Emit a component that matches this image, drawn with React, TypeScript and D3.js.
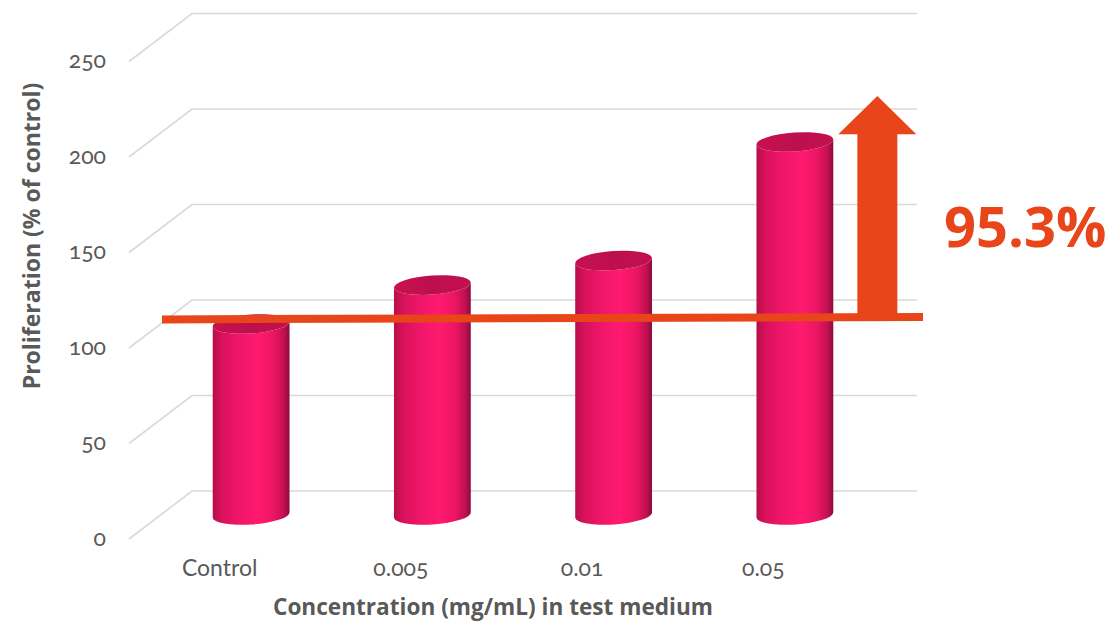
import React from "react";
import * as d3 from "d3";

// Data
const categories = ["Control", "0.005", "0.01", "0.05"];
const proliferation = [100, 120.4, 133.2, 195.3];
const yTicks = [0, 50, 100, 150, 200, 250];
const increaseLabel = "95.3%";
// Reference line at control level (slightly tilted as drawn), start/end in axis units
const refLevels = [102.4, 103.7];
// Arrow: head base and tip, in axis units
const arrowLevels = [199.3, 219.4];

const W = 1117;
const H = 622;
const GREY = "#595959";
const GRID = "#d9d9d9";
const ORANGE = "#E8461A";
const FONT = "Lato, 'Open Sans', sans-serif";
const TITLE_FONT = "'Open Sans', sans-serif";

// 3D layout: back wall plane, front plane offset, bars at half depth
const depthDx = -63;
const depthDy = 48;
const yBack = d3.scaleLinear().domain([0, 250]).range([491, 13.5]);
const backX0 = 192;
const backX1 = 917;
const yMid = (v: number) => yBack(v) + depthDy / 2;
const xMid = d3
  .scaleBand<string>()
  .domain(categories)
  .range([backX0 + depthDx / 2, backX1 + depthDx / 2]);

const barRx = 38.5;
const barRy = 9.5;
const tilt = -4; // degrees

function barSide(cx: number, yTop: number, yBot: number) {
  const t = (tilt * Math.PI) / 180;
  const dx = barRx * Math.cos(t);
  const dy = barRx * Math.sin(t);
  const xl = cx - dx, yl = -dy;
  const xr = cx + dx, yr = dy;
  return [
    `M${xl},${yTop + yl}`,
    `L${xl},${yBot + yl}`,
    `A${barRx},${barRy} ${tilt} 0 0 ${xr},${yBot + yr}`,
    `L${xr},${yTop + yr}`,
    `A${barRx},${barRy} ${tilt} 0 1 ${xl},${yTop + yl}`,
    "Z",
  ].join(" ");
}

export default function App() {
  const step = xMid.step();
  const lastCx = xMid(categories[3])! + xMid.bandwidth() / 2;
  const arrowCx = lastCx + step * 0.455;
  const lineX0 = 162;
  const lineX1 = 923;
  const lineY0 = yMid(refLevels[0]);
  const lineY1 = yMid(refLevels[1]);
  const lineYAt = (x: number) => lineY0 + ((x - lineX0) / (lineX1 - lineX0)) * (lineY1 - lineY0);
  const headBase = yMid(arrowLevels[0]);
  const tipY = yMid(arrowLevels[1]);
  const shaftHalf = 20;
  const headHalf = 39;
  const arrowBottom = lineYAt(arrowCx);

  return (
    <svg
      width={W}
      height={H}
      style={{ position: "absolute", left: 0, top: 0, background: "#fff" }}
      fontFamily={FONT}
    >
      <defs>
        <linearGradient id="cylSide" x1="0" x2="1" y1="0" y2="0">
          <stop offset="0" stopColor="#b80e4a" />
          <stop offset="0.12" stopColor="#d8125a" />
          <stop offset="0.35" stopColor="#f0166a" />
          <stop offset="0.6" stopColor="#ff1a6f" />
          <stop offset="0.8" stopColor="#ea1562" />
          <stop offset="0.93" stopColor="#c01050" />
          <stop offset="1" stopColor="#8a0b3c" />
        </linearGradient>
        <linearGradient id="cylTop" x1="0" x2="1" y1="0" y2="0">
          <stop offset="0" stopColor="#c8114f" />
          <stop offset="0.5" stopColor="#bd0f4d" />
          <stop offset="1" stopColor="#c3104f" />
        </linearGradient>
      </defs>

      {/* gridlines: diagonal from front edge to back wall, then across */}
      {yTicks.map((t) => (
        <polyline
          key={t}
          points={`${backX0 + depthDx},${yBack(t) + depthDy} ${backX0},${yBack(t)} ${backX1},${yBack(t)}`}
          fill="none"
          stroke={GRID}
          strokeWidth={1.6}
        />
      ))}

      {/* y tick labels on the front plane */}
      {yTicks.map((t) => (
        <text
          key={t}
          x={106}
          y={yBack(t) + depthDy}
          dy="0.3em"
          textAnchor="end"
          fontSize={23}
          fill={GREY}
          style={{ fontVariantNumeric: "oldstyle-nums" }}
        >
          {t}
        </text>
      ))}

      {/* cylinders */}
      {categories.map((c, i) => {
        const cx = xMid(c)! + xMid.bandwidth() / 2;
        const yTop = yMid(proliferation[i]);
        const yBot = yMid(0);
        return (
          <g key={c}>
            <path d={barSide(cx, yTop, yBot)} fill="url(#cylSide)" />
            <ellipse
              cx={cx}
              cy={yTop}
              rx={barRx}
              ry={barRy}
              transform={`rotate(${tilt} ${cx} ${yTop})`}
              fill="url(#cylTop)"
            />
          </g>
        );
      })}

      {/* category labels on the front plane */}
      {categories.map((c) => (
        <text
          key={c}
          x={xMid(c)! + xMid.bandwidth() / 2 + depthDx / 2}
          y={576}
          textAnchor="middle"
          fontSize={23}
          fill={GREY}
          style={{ fontVariantNumeric: "oldstyle-nums" }}
        >
          {c}
        </text>
      ))}

      {/* reference line and increase arrow */}
      <line x1={lineX0} y1={lineY0} x2={lineX1} y2={lineY1} stroke={ORANGE} strokeWidth={8} />
      <path
        d={`M${arrowCx - shaftHalf},${arrowBottom} L${arrowCx - shaftHalf},${headBase} L${arrowCx - headHalf},${headBase} L${arrowCx},${tipY} L${arrowCx + headHalf},${headBase} L${arrowCx + shaftHalf},${headBase} L${arrowCx + shaftHalf},${arrowBottom} Z`}
        fill={ORANGE}
      />
      <text x={944} y={246.5} fontSize={56} fontWeight={700} fill={ORANGE} fontFamily={TITLE_FONT}>
        {increaseLabel}
      </text>

      {/* axis titles */}
      <text
        transform={`translate(40,236) rotate(-90)`}
        textAnchor="middle"
        fontSize={23}
        fontWeight={700}
        fill={GREY}
        fontFamily={TITLE_FONT}
      >
        Proliferation (% of control)
      </text>
      <text
        x={493}
        y={615}
        textAnchor="middle"
        fontSize={22.6}
        fontWeight={700}
        fill={GREY}
        fontFamily={TITLE_FONT}
      >
        Concentration (mg/mL) in test medium
      </text>
    </svg>
  );
}
